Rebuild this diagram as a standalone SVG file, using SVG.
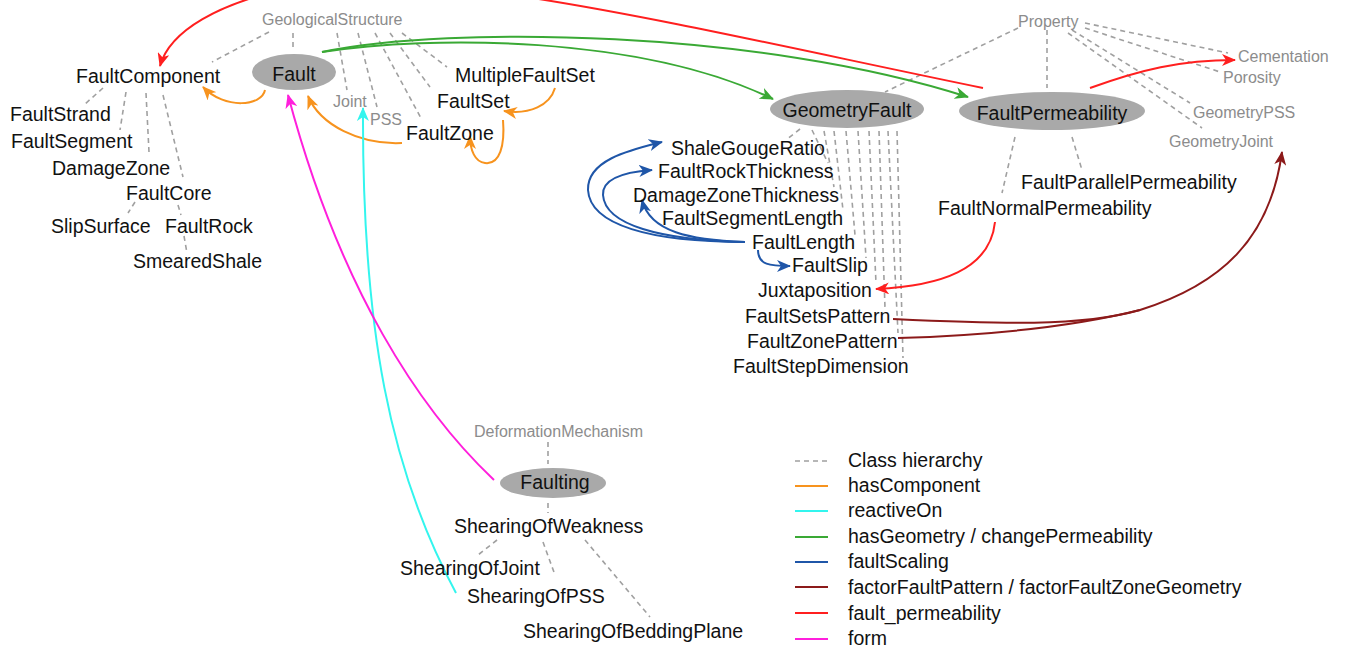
<svg xmlns="http://www.w3.org/2000/svg" width="1346" height="647" viewBox="0 0 1346 647">
<style>
text{font-family:"Liberation Sans",Arial,sans-serif}
.b{font-size:19.5px;fill:#111}
.g{font-size:16px;fill:#8c8c8c}
.n{fill:#a9a9a9}
.h{stroke:#a0a0a0;stroke-width:1.6;stroke-dasharray:5 4;fill:none}
.c{fill:none;stroke-width:2}
.or{stroke:#f7931e}.cy{stroke:#33f5ee}.gr{stroke:#3aa935}.bl{stroke:#1f56a8}.dr{stroke:#8c1a1a}.rd{stroke:#ff1f1f}.mg{stroke:#ff1fdc}
</style>
<defs>
<marker id="aOr" viewBox="0 0 14 12" refX="13" refY="6" markerWidth="14" markerHeight="12" markerUnits="userSpaceOnUse" orient="auto"><path d="M0,0 L14,6 L0,12 L4,6 z" fill="#f7931e"/></marker>
<marker id="aCy" viewBox="0 0 14 12" refX="13" refY="6" markerWidth="14" markerHeight="12" markerUnits="userSpaceOnUse" orient="auto"><path d="M0,0 L14,6 L0,12 L4,6 z" fill="#33f5ee"/></marker>
<marker id="aGr" viewBox="0 0 14 12" refX="13" refY="6" markerWidth="14" markerHeight="12" markerUnits="userSpaceOnUse" orient="auto"><path d="M0,0 L14,6 L0,12 L4,6 z" fill="#3aa935"/></marker>
<marker id="aBl" viewBox="0 0 14 12" refX="13" refY="6" markerWidth="14" markerHeight="12" markerUnits="userSpaceOnUse" orient="auto"><path d="M0,0 L14,6 L0,12 L4,6 z" fill="#1f56a8"/></marker>
<marker id="aDr" viewBox="0 0 14 12" refX="13" refY="6" markerWidth="14" markerHeight="12" markerUnits="userSpaceOnUse" orient="auto"><path d="M0,0 L14,6 L0,12 L4,6 z" fill="#8c1a1a"/></marker>
<marker id="aRd" viewBox="0 0 14 12" refX="13" refY="6" markerWidth="14" markerHeight="12" markerUnits="userSpaceOnUse" orient="auto"><path d="M0,0 L14,6 L0,12 L4,6 z" fill="#ff1f1f"/></marker>
<marker id="aMg" viewBox="0 0 14 12" refX="13" refY="6" markerWidth="14" markerHeight="12" markerUnits="userSpaceOnUse" orient="auto"><path d="M0,0 L14,6 L0,12 L4,6 z" fill="#ff1fdc"/></marker>
</defs>
<rect width="1346" height="647" fill="#fff"/>

<g id="hierarchy">
<path class="h" d="M269,32 L212,62 M293,33 L293,50 M337,33 L347,90 M358,33 L377,107 M375,33 L422,120 M390,33 L430,87 M402,33 L447,67"/>
<path class="h" d="M103,88 L85,104 M126,92 L120,130 M146,93 L149,152 M163,95 L183,177 M135,202 L128,213 M178,205 L181,215 M184,236 L187,253"/>
<path class="h" d="M1018,28 L885,92 M1047,30 L1047,88 M1085,23 L1228,53 M1085,28 L1220,72 M1072,30 L1190,103 M1068,33 L1202,128"/>
<path class="h" d="M1015,137 L1002,193 M1072,137 L1082,170"/>
<path class="h" d="M800,129 L786,140 M812,130 L828,163 M824,131 L834,187 M834,131 L843,210 M846,131 L855,235 M858,131 L866,258 M869,131 L876,283 M879,131 L885,308 M888,131 L898,333 M897,131 L903,358"/>
<path class="h" d="M548,442 L548,464 M548,503 L548,513 M497,540 L478,555 M543,542 L555,575 M585,540 L650,617"/>
</g>

<g id="connectors">
<path class="c rd" d="M983,88 C700,30 420,-40 290,-12 C220,3 170,30 160,66" marker-end="url(#aRd)"/>
<path class="c rd" d="M1090,88 C1140,70 1180,60 1235,60" marker-end="url(#aRd)"/>
<path class="c rd" d="M995,222 C990,270 940,286 876,289" marker-end="url(#aRd)"/>
<path class="c gr" d="M322,52 C450,25 760,30 968,97" marker-end="url(#aGr)"/>
<path class="c gr" d="M322,52 C430,35 640,35 773,99" marker-end="url(#aGr)"/>
<path class="c or" d="M265,90 C262,106 225,110 203,87" marker-end="url(#aOr)"/>
<path class="c or" d="M402,143 C360,145 320,125 308,96" marker-end="url(#aOr)"/>
<path class="c or" d="M555,88 C550,105 530,115 504,111" marker-end="url(#aOr)"/>
<path class="c or" d="M503,120 C505,145 500,165 485,163 C475,162 470,150 470,136" marker-end="url(#aOr)"/>
<path class="c cy" d="M456,593 C390,470 362,330 363,108" marker-end="url(#aCy)"/>
<path class="c mg" d="M494,480 C420,410 340,290 288,95" marker-end="url(#aMg)"/>
<path class="c bl" d="M745,242 C650,242 590,225 588,190 C587,160 630,150 662,142" marker-end="url(#aBl)"/>
<path class="c bl" d="M745,242 C660,240 605,225 603,195 C602,178 625,172 652,170" marker-end="url(#aBl)"/>
<path class="c bl" d="M745,242 C690,240 650,232 642,200" marker-end="url(#aBl)"/>
<path class="c bl" d="M758,250 C758,265 770,266 790,266" marker-end="url(#aBl)"/>
<path class="c dr" d="M893,319 C1000,324 1080,327 1140,310 C1220,285 1270,240 1282,152" marker-end="url(#aDr)"/>
<path class="c dr" d="M898,338 C1000,335 1080,325 1140,310"/>
</g>

<g id="GeologicalStructure"><text class="g" x="262" y="25">GeologicalStructure</text></g>
<g id="FaultComponent"><text class="b" x="76" y="83">FaultComponent</text></g>
<g id="Fault"><ellipse class="n" cx="294" cy="72" rx="42" ry="18"/><text class="b" x="294" y="81" text-anchor="middle">Fault</text></g>
<g id="FaultStrand"><text class="b" x="10" y="121">FaultStrand</text></g>
<g id="FaultSegment"><text class="b" x="11" y="148">FaultSegment</text></g>
<g id="DamageZone"><text class="b" x="52" y="175">DamageZone</text></g>
<g id="FaultCore"><text class="b" x="126" y="200">FaultCore</text></g>
<g id="SlipSurface"><text class="b" x="51" y="233">SlipSurface</text></g>
<g id="FaultRock"><text class="b" x="165" y="233">FaultRock</text></g>
<g id="SmearedShale"><text class="b" x="133" y="268">SmearedShale</text></g>
<g id="Joint"><text class="g" x="333" y="107">Joint</text></g>
<g id="PSS"><text class="g" x="370" y="125">PSS</text></g>
<g id="MultipleFaultSet"><text class="b" x="455" y="82">MultipleFaultSet</text></g>
<g id="FaultSet"><text class="b" x="437" y="108">FaultSet</text></g>
<g id="FaultZone"><text class="b" x="406" y="140">FaultZone</text></g>

<g id="GeometryFault"><ellipse class="n" cx="847" cy="109" rx="77" ry="19"/><text class="b" x="847" y="117" text-anchor="middle">GeometryFault</text></g>
<g id="ShaleGougeRatio"><text class="b" x="671" y="155">ShaleGougeRatio</text></g>
<g id="FaultRockThickness"><text class="b" x="658" y="178">FaultRockThickness</text></g>
<g id="DamageZoneThickness"><text class="b" x="633" y="202">DamageZoneThickness</text></g>
<g id="FaultSegmentLength"><text class="b" x="662" y="225">FaultSegmentLength</text></g>
<g id="FaultLength"><text class="b" x="752" y="249">FaultLength</text></g>
<g id="FaultSlip"><text class="b" x="792" y="272">FaultSlip</text></g>
<g id="Juxtaposition"><text class="b" x="758" y="297">Juxtaposition</text></g>
<g id="FaultSetsPattern"><text class="b" x="745" y="323">FaultSetsPattern</text></g>
<g id="FaultZonePattern"><text class="b" x="747" y="348">FaultZonePattern</text></g>
<g id="FaultStepDimension"><text class="b" x="733" y="373">FaultStepDimension</text></g>

<g id="Property"><text class="g" x="1018" y="27">Property</text></g>
<g id="FaultPermeability"><ellipse class="n" cx="1052" cy="111" rx="93" ry="19"/><text class="b" x="1052" y="120" text-anchor="middle">FaultPermeability</text></g>
<g id="Cementation"><text class="g" x="1238" y="62">Cementation</text></g>
<g id="Porosity"><text class="g" x="1223" y="83">Porosity</text></g>
<g id="GeometryPSS"><text class="g" x="1193" y="118">GeometryPSS</text></g>
<g id="GeometryJoint"><text class="g" x="1169" y="147">GeometryJoint</text></g>
<g id="FaultParallelPermeability"><text class="b" x="1021" y="189">FaultParallelPermeability</text></g>
<g id="FaultNormalPermeability"><text class="b" x="938" y="215">FaultNormalPermeability</text></g>

<g id="DeformationMechanism"><text class="g" x="474" y="437">DeformationMechanism</text></g>
<g id="Faulting"><ellipse class="n" cx="553" cy="483" rx="53" ry="15"/><text class="b" x="555" y="489" text-anchor="middle">Faulting</text></g>
<g id="ShearingOfWeakness"><text class="b" x="454" y="533">ShearingOfWeakness</text></g>
<g id="ShearingOfJoint"><text class="b" x="400" y="575">ShearingOfJoint</text></g>
<g id="ShearingOfPSS"><text class="b" x="467" y="603">ShearingOfPSS</text></g>
<g id="ShearingOfBeddingPlane"><text class="b" x="523" y="638">ShearingOfBeddingPlane</text></g>

<g id="legend">
<line class="h" x1="795" y1="461" x2="828" y2="461"/>
<line class="c or" x1="795" y1="486" x2="828" y2="486"/>
<line class="c cy" x1="795" y1="511" x2="828" y2="511"/>
<line class="c gr" x1="795" y1="537" x2="828" y2="537"/>
<line class="c bl" x1="795" y1="562" x2="828" y2="562"/>
<line class="c dr" x1="795" y1="587" x2="828" y2="587"/>
<line class="c rd" x1="795" y1="613" x2="828" y2="613"/>
<line class="c mg" x1="795" y1="639" x2="828" y2="639"/>
<text class="b" x="848" y="467">Class hierarchy</text>
<text class="b" x="848" y="492">hasComponent</text>
<text class="b" x="848" y="517">reactiveOn</text>
<text class="b" x="848" y="543">hasGeometry / changePermeability</text>
<text class="b" x="848" y="568">faultScaling</text>
<text class="b" x="848" y="594">factorFaultPattern / factorFaultZoneGeometry</text>
<text class="b" x="848" y="620">fault_permeability</text>
<text class="b" x="848" y="645">form</text>
</g>
</svg>
